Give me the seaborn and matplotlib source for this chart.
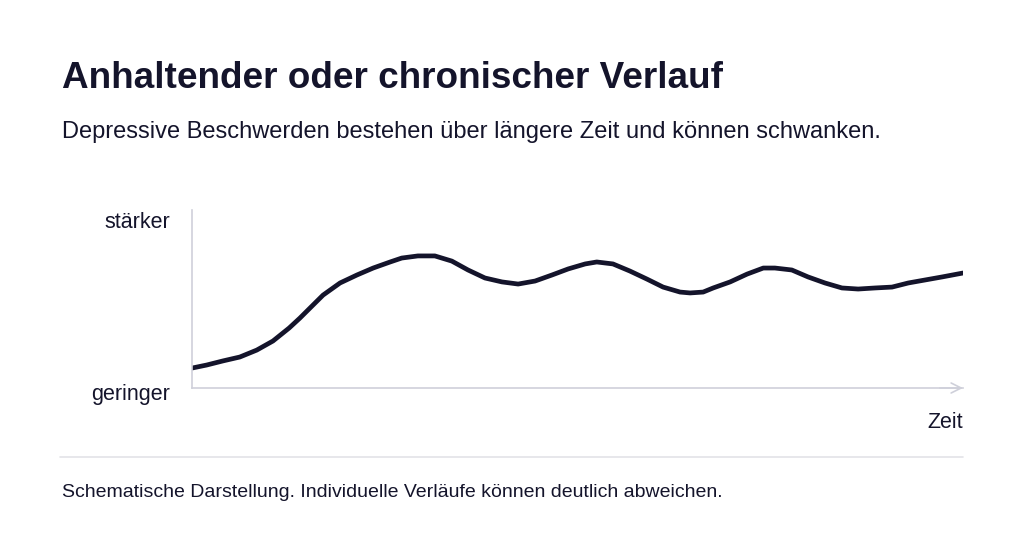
import pandas as pd
import matplotlib.pyplot as plt
import seaborn as sns

sns.set_theme(style="white")
plt.rcParams['font.family'] = ['Liberation Sans', 'DejaVu Sans']

TEXT = '#14142b'
AXIS = '#cfd0da'

# Zeit (0-100) und Schweregrad (0 = geringer, 100 = stärker)
zeit = [0.0, 1.9, 4.0, 6.2, 8.4, 10.5, 12.6, 14.0, 15.3, 17.0, 19.2, 21.4, 23.5,
        25.7, 27.2, 29.3, 31.5, 33.7, 35.8, 38.0, 40.2, 42.3, 44.5, 46.7, 48.8,
        51.0, 52.5, 54.6, 56.8, 59.0, 61.1, 63.3, 64.6, 66.3, 67.6, 69.8, 72.0,
        74.1, 75.6, 77.8, 79.9, 82.1, 84.3, 86.4, 88.6, 90.8, 92.9, 95.1, 97.3, 100.0]
schwere = [11.2, 12.9, 15.2, 17.4, 21.3, 26.4, 33.7, 39.3, 44.9, 52.2, 59.0, 63.5,
           67.4, 70.8, 73.0, 74.2, 74.2, 71.3, 66.3, 61.8, 59.6, 58.4, 60.1, 63.5,
           66.9, 69.7, 70.8, 69.7, 65.7, 61.2, 56.7, 53.9, 53.4, 53.9, 56.2, 59.6,
           64.0, 67.4, 67.4, 66.3, 62.4, 59.0, 56.2, 55.6, 56.2, 56.7, 59.0, 60.7,
           62.4, 64.6]

df = pd.DataFrame({'zeit': zeit, 'schwere': schwere})

W, H = 1024, 546
fig = plt.figure(figsize=(W / 100, H / 100), dpi=100)
ax = fig.add_axes([192 / W, 1 - 388 / H, 771 / W, 178 / H])

sns.lineplot(data=df, x='zeit', y='schwere', ax=ax, color=TEXT, linewidth=3.4,
             solid_capstyle='round', solid_joinstyle='round')
ax.set_xlim(0, 100)
ax.set_ylim(0, 100)
ax.set_xticks([])
ax.set_yticks([])
ax.set_xlabel('')
ax.set_ylabel('')
for s in ['top', 'right']:
    ax.spines[s].set_visible(False)
for s in ['left', 'bottom']:
    ax.spines[s].set_color(AXIS)
    ax.spines[s].set_linewidth(1.2)
ax.annotate('', xy=(1.0, 0), xytext=(0.97, 0), xycoords='axes fraction',
            arrowprops=dict(arrowstyle='->', color=AXIS, lw=1.2,
                            mutation_scale=18, shrinkA=0, shrinkB=0),
            annotation_clip=False)

fig.text(62 / W, 1 - 88.5 / H, 'Anhaltender oder chronischer Verlauf', fontsize=26.6,
         fontweight='bold', color=TEXT, va='baseline', ha='left')
fig.text(62 / W, 1 - 138 / H,
         'Depressive Beschwerden bestehen über längere Zeit und können schwanken.',
         fontsize=17, color=TEXT, va='baseline', ha='left')
fig.text(170 / W, 1 - 228 / H, 'stärker', fontsize=15.5, color=TEXT, va='baseline', ha='right')
fig.text(170 / W, 1 - 400 / H, 'geringer', fontsize=15.5, color=TEXT, va='baseline', ha='right')
fig.text(963 / W, 1 - 428 / H, 'Zeit', fontsize=15.5, color=TEXT, va='baseline', ha='right')

fig.add_artist(plt.Line2D([60 / W, 963 / W], [1 - 457 / H, 1 - 457 / H],
                          color='#e3e3e8', linewidth=1.2))
fig.text(62 / W, 1 - 497 / H,
         'Schematische Darstellung. Individuelle Verläufe können deutlich abweichen.',
         fontsize=14, color=TEXT, va='baseline', ha='left')

fig.savefig('out.png', dpi=100, facecolor='white')
